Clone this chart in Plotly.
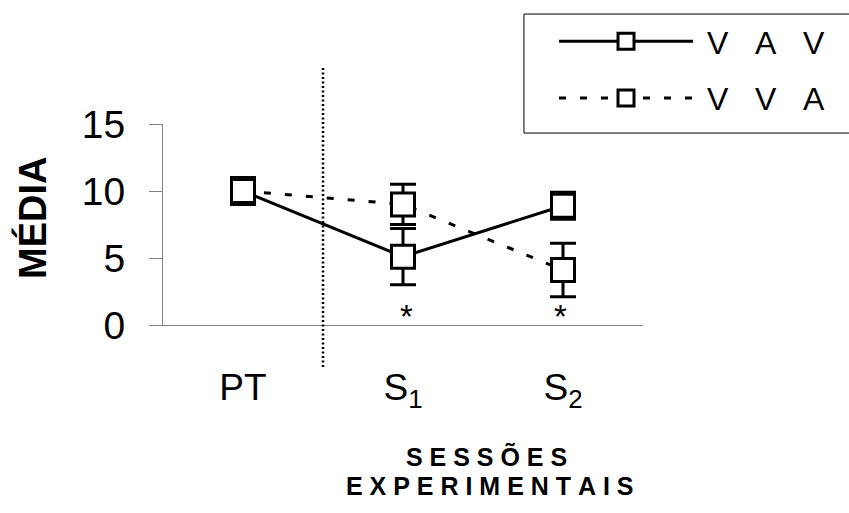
import plotly.graph_objects as go

categories = ["PT", "S<sub>1</sub>", "S<sub>2</sub>"]
vav_mean = [10.0, 5.1, 8.9]
vav_err = [1.0, 2.1, 1.0]
vva_mean = [10.0, 9.0, 4.1]
vva_err = [1.0, 1.5, 2.0]
series_names = ["\u00a0V\u00a0\u00a0\u00a0A\u00a0\u00a0\u00a0V", "\u00a0V\u00a0\u00a0\u00a0V\u00a0\u00a0\u00a0A"]
star_cats = ["S<sub>1</sub>", "S<sub>2</sub>"]
star_y = [1.0, 1.0]
y_ticks = [0, 5, 10, 15]

FONT = "Arial, Liberation Sans, sans-serif"

fig = go.Figure()
for name, mean, err, dash, grp in [
    (series_names[0], vav_mean, vav_err, "solid", "a"),
    (series_names[1], vva_mean, vva_err, "7px,14px", "b"),
]:
    fig.add_trace(go.Scatter(
        x=categories, y=mean, name=name, mode="lines+markers",
        legendgroup=grp,
        line=dict(color="black", width=3, dash=dash),
        marker=dict(symbol="square", size=23, color="white",
                    line=dict(color="black", width=3)),
        error_y=dict(type="data", array=err, visible=True,
                     color="black", thickness=3, width=13),
        cliponaxis=False,
    ))

for cx, cy, sh in zip(star_cats, star_y, [3, -3]):
    fig.add_annotation(x=cx, y=cy, text="*", showarrow=False, xshift=sh,
                       yshift=-5, xanchor="center", yanchor="middle",
                       font=dict(family=FONT, size=33, color="black"))

# vertical dotted separator between PT and S1
fig.add_shape(type="line", xref="x", yref="paper", x0=0.5, x1=0.5,
              y0=-0.209, y1=1.279,
              line=dict(color="black", width=2.5, dash="2px,2.5px"))

# legend frame
fig.add_shape(type="rect", xref="paper", yref="paper", x0=0.752, x1=1.6,
              y0=0.955, y1=1.547, line=dict(color="black", width=1),
              fillcolor="white", layer="below")

fig.add_annotation(xref="paper", yref="paper", x=-0.273, y=0.532,
                   text="<b>MÉDIA</b>", textangle=-90, showarrow=False,
                   xanchor="center", yanchor="middle",
                   font=dict(family=FONT, size=38, color="black"))
sp = "\u00a0"
fig.add_annotation(xref="paper", yref="paper", x=0.674, y=-0.652,
                   text="<b>" + sp.join("SESSÕES") + "</b>", showarrow=False,
                   xanchor="center", yanchor="middle",
                   font=dict(family=FONT, size=25, color="black"))
fig.add_annotation(xref="paper", yref="paper", x=0.681, y=-0.801,
                   text="<b>" + sp.join("EXPERIMENTAIS") + "</b>", showarrow=False,
                   xanchor="center", yanchor="middle",
                   font=dict(family=FONT, size=25, color="black"))

fig.update_layout(
    width=849, height=513,
    margin=dict(l=163, r=206, t=124, b=188, autoexpand=False),
    paper_bgcolor="white", plot_bgcolor="white",
    showlegend=True,
    legend=dict(x=0.8146, y=1.547, xanchor="left", yanchor="top",
                borderwidth=0, bgcolor="rgba(0,0,0,0)",
                font=dict(family=FONT, size=32, color="black"),
                itemwidth=134, traceorder="grouped", tracegroupgap=12),
    xaxis=dict(type="category", range=[-0.5, 2.5], showline=True,
               linecolor="#808080", linewidth=1, showgrid=False,
               ticks="", ticklabelstandoff=30,
               tickfont=dict(family=FONT, size=37, color="black"),
               zeroline=False),
    yaxis=dict(range=[0, 15], tickvals=y_ticks, showline=True,
               linecolor="#808080", linewidth=1, showgrid=False,
               ticks="outside", ticklen=13, tickcolor="#808080",
               ticklabelstandoff=16,
               tickfont=dict(family=FONT, size=39, color="black"),
               zeroline=False),
)

fig.write_html("out.html", config={"displayModeBar": False},
               post_script="document.body.style.margin='0';")
